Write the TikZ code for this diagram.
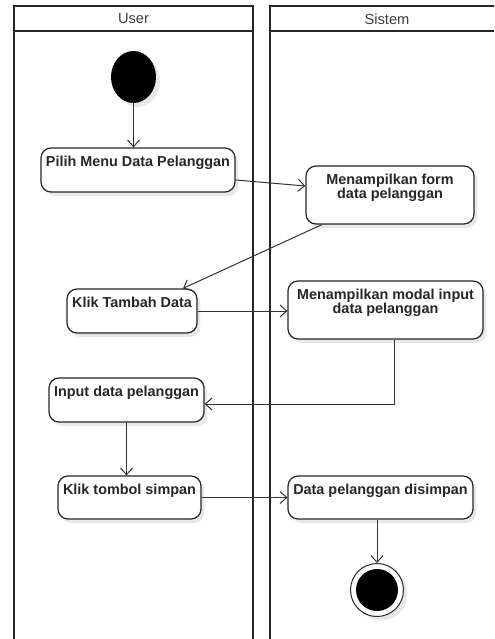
\documentclass[tikz,border=0pt]{standalone}
\usepackage{fontspec}
\setmainfont{Liberation Sans}
\usetikzlibrary{arrows.meta,shadows,shapes.geometric,calc}

\begin{document}
\begin{tikzpicture}[x=0.75pt,y=-0.75pt,
  lane/.style={draw=black!85, line width=1.5pt},
  lanetitle/.style={font=\fontsize{11}{13}\selectfont, text=black!75, inner sep=0pt},
  act/.style={draw=black!85, line width=0.9pt, rounded corners=7.5pt, fill=white, inner sep=0pt,
    drop shadow={shadow xshift=2.5pt, shadow yshift=-3pt, fill=black!9, opacity=1}},
  acttext/.style={anchor=north, yshift=-6.5pt, inner sep=0pt, align=center,
    font=\bfseries\fontsize{10.8}{10.4}\selectfont, text=black!85},
  flow/.style={draw=black!80, line width=0.75pt, -{Straight Barb[length=5pt,width=9pt]}},
  shade/.style={drop shadow={shadow xshift=3pt, shadow yshift=-3pt, fill=black!9, opacity=1}},
]
\useasboundingbox (0,0) rectangle (494,639);

% swimlanes
\begin{scope}
  \clip (0,0) rectangle (494,639);
  \draw[lane] (14,6) rectangle (253,700);
  \draw[lane] (14,31) -- (253,31);
  \draw[lane] (270,6) rectangle (504,700);
  \draw[lane] (270,31) -- (504,31);
\end{scope}
\node[lanetitle] (userlane) at (133.5,19) {User};
\node[lanetitle] (syslane) at (387,19) {Sistem};

% initial node
\node[ellipse, fill=black, minimum width=45*0.75pt, minimum height=52*0.75pt, inner sep=0pt, shade] (start) at (133.5,77) {};

% actions
\node[act, minimum width=194*0.75pt, minimum height=44*0.75pt,
  label={[acttext]north:Pilih Menu Data Pelanggan}] (pilih) at (138,170) {};
\node[act, minimum width=168*0.75pt, minimum height=58*0.75pt,
  label={[acttext]north:Menampilkan form\\data pelanggan}] (form) at (390,195) {};
\node[act, minimum width=130*0.75pt, minimum height=44*0.75pt,
  label={[acttext]north:Klik Tambah Data}] (tambah) at (132,311) {};
\node[act, minimum width=195*0.75pt, minimum height=58*0.75pt,
  label={[acttext]north:Menampilkan modal input\\data pelanggan}] (modal) at (385.5,310) {};
\node[act, minimum width=155*0.75pt, minimum height=44*0.75pt,
  label={[acttext]north:Input data pelanggan}] (input) at (126.5,400) {};
\node[act, minimum width=143*0.75pt, minimum height=43*0.75pt,
  label={[acttext]north:Klik tombol simpan}] (tombol) at (129.5,497.5) {};
\node[act, minimum width=185*0.75pt, minimum height=43*0.75pt,
  label={[acttext]north:Data pelanggan disimpan}] (simpan) at (380.5,497.5) {};

% final node
\node[circle, draw=black!85, line width=0.75pt, fill=white, minimum size=53*0.75pt, inner sep=0pt, shade] (end) at (377,590) {};
\fill[black] (end.center) circle[radius=15.75pt];

% control flows
\draw[flow] (start.south) -- (start.south |- pilih.north);
\draw[flow] ([yshift=-7.5pt]pilih.east) -- ([yshift=6.75pt]form.west);
\draw[flow] ([xshift=-51pt]form.south) -- ([xshift=38.25pt]tambah.north);
\draw[flow] (tambah.east) -- (tambah.east -| modal.west);
\draw[flow] ([xshift=7pt]modal.south) |- ([yshift=-3pt]input.east);
\draw[flow] (input.south) -- (input.south |- tombol.north);
\draw[flow] (tombol.east) -- (tombol.east -| simpan.west);
\draw[flow] (end.north |- simpan.south) -- (end.north);
\end{tikzpicture}
\end{document}
